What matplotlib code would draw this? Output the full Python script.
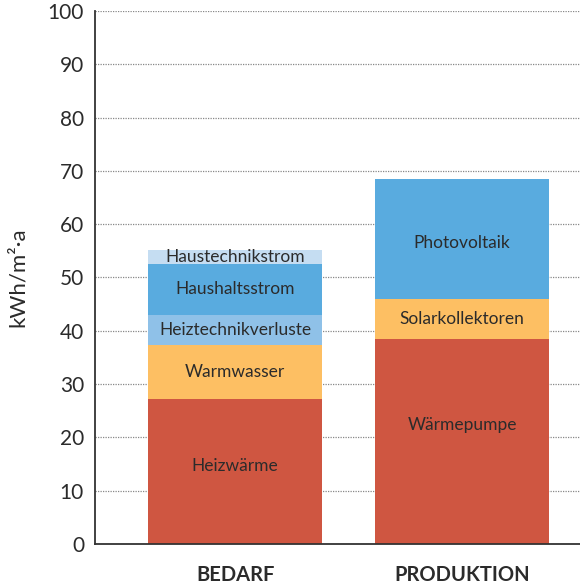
import numpy as np
import matplotlib.pyplot as plt

categories = ["BEDARF", "PRODUKTION"]

# stacked segments, bottom to top
bedarf_labels = ["Heizwärme", "Warmwasser", "Heiztechnikverluste", "Haushaltsstrom", "Haustechnikstrom"]
bedarf_values = [27.2, 10.1, 5.7, 9.5, 2.7]
bedarf_colors = ["#CF5641", "#FDBF63", "#8FC1E8", "#59ABDF", "#C5DDF2"]

prod_labels = ["Wärmepumpe", "Solarkollektoren", "Photovoltaik"]
prod_values = [38.4, 7.5, 22.5]
prod_colors = ["#CF5641", "#FDBF63", "#59ABDF"]

yticks = [0, 10, 20, 30, 40, 50, 60, 70, 80, 90, 100]

# where inside each segment its label sits (fraction of height)
bedarf_labfrac = [0.54, 0.5, 0.5, 0.5, 0.5]
prod_labfrac = [0.58, 0.5, 0.47]

plt.rcParams['font.family'] = ['Lato', 'DejaVu Sans']
txt = "#2b2b2b"

fig = plt.figure(figsize=(5.8, 5.87), dpi=100)
ax = fig.add_axes([0.164, 0.0733, 0.836, 0.908])

width = 0.767
for x, vals, labs, cols, fr in [(0, bedarf_values, bedarf_labels, bedarf_colors, bedarf_labfrac),
                                (1, prod_values, prod_labels, prod_colors, prod_labfrac)]:
    bottom = 0
    for v, lab, c, f in zip(vals, labs, cols, fr):
        ax.bar(x, v, width=width, bottom=bottom, color=c, zorder=2, linewidth=0)
        ax.text(x, bottom + v * f, lab, ha='center', va='center',
                fontsize=12.5, color=txt, zorder=3)
        bottom += v

ax.set_xlim(-0.617, 1.52)
ax.set_ylim(0, 100)
ax.set_yticks(yticks)
ax.set_yticklabels([str(t) for t in yticks], fontsize=15, color=txt)
ax.set_xticks([0, 1])
ax.set_xticklabels(categories, fontsize=14.5, fontweight='bold', color=txt)
ax.tick_params(axis='both', length=0)
ax.tick_params(axis='x', pad=15)
ax.tick_params(axis='y', pad=8)
ax.yaxis.grid(True, linestyle=(0, (1, 1)), color='#888888', linewidth=0.9, zorder=0)
ax.set_axisbelow(True)
for s in ['top', 'right']:
    ax.spines[s].set_visible(False)
for s in ['left', 'bottom']:
    ax.spines[s].set_color('#333333')
    ax.spines[s].set_linewidth(1.3)
ax.set_ylabel("kWh/m²·a", fontsize=16, color=txt, labelpad=14)

fig.savefig("out.png", dpi=100)
